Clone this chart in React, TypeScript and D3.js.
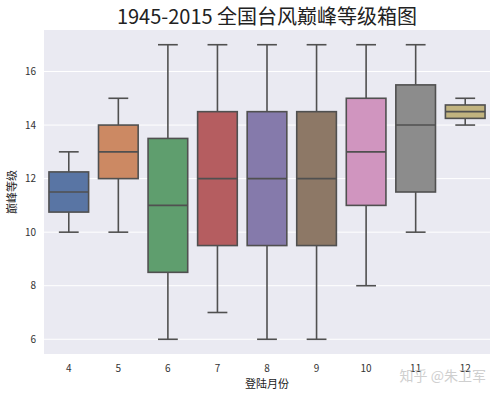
import React from "react";
import * as d3 from "d3";

const months = ["4", "5", "6", "7", "8", "9", "10", "11", "12"];
const whiskerLow = [10, 10, 6, 7, 6, 6, 8, 10, 14];
const q1 = [10.75, 12, 8.5, 9.5, 9.5, 9.5, 11, 11.5, 14.25];
const median = [11.5, 13, 11, 12, 12, 12, 13, 14, 14.5];
const q3 = [12.25, 14, 13.5, 14.5, 14.5, 14.5, 15, 15.5, 14.75];
const whiskerHigh = [13, 15, 17, 17, 17, 17, 17, 17, 15];
const colors = ["#5975a4", "#cc8963", "#5f9e6e", "#b55d60", "#857aab", "#8d7866", "#d095bf", "#8c8c8c", "#c1b37f"];
const yTicks = [6, 8, 10, 12, 14, 16];

const W = 497, H = 395;
const left = 44, right = 490, top = 30, bottom = 354;
const font = "'Noto Sans CJK SC', 'Noto Sans', sans-serif";

export default function App() {
  const x = d3.scaleBand<string>().domain(months).range([left, right]).paddingInner(0).paddingOuter(0);
  const y = d3.scaleLinear().domain([5.45, 17.55]).range([bottom, top]);
  const bw = x.bandwidth() * 0.8;
  const line = "#505050";
  return (
    <svg width={W} height={H} style={{ position: "absolute", left: 0, top: 0, background: "#fff" }} fontFamily={font}>
      <rect x={left} y={top} width={right - left} height={bottom - top} fill="#eaeaf2" />
      {yTicks.map((t) => (
        <g key={t}>
          <line x1={left} x2={right} y1={y(t)} y2={y(t)} stroke="#fff" strokeWidth={1} />
          <text x={left - 8} y={y(t)} dy="0.35em" textAnchor="end" fontSize={10} fill="#333">{t}</text>
        </g>
      ))}
      {months.map((m, i) => {
        const cx = x(m)! + x.bandwidth() / 2;
        return (
          <g key={m}>
            <line x1={cx} x2={cx} y1={y(whiskerHigh[i])} y2={y(q3[i])} stroke={line} strokeWidth={1.6} />
            <line x1={cx} x2={cx} y1={y(q1[i])} y2={y(whiskerLow[i])} stroke={line} strokeWidth={1.6} />
            <line x1={cx - bw / 4} x2={cx + bw / 4} y1={y(whiskerHigh[i])} y2={y(whiskerHigh[i])} stroke={line} strokeWidth={1.6} />
            <line x1={cx - bw / 4} x2={cx + bw / 4} y1={y(whiskerLow[i])} y2={y(whiskerLow[i])} stroke={line} strokeWidth={1.6} />
            <rect x={cx - bw / 2} y={y(q3[i])} width={bw} height={y(q1[i]) - y(q3[i])} fill={colors[i]} stroke={line} strokeWidth={1.6} />
            <line x1={cx - bw / 2} x2={cx + bw / 2} y1={y(median[i])} y2={y(median[i])} stroke={line} strokeWidth={1.6} />
            <text x={cx} y={bottom + 18} textAnchor="middle" fontSize={10} fill="#333">{m}</text>
          </g>
        );
      })}
      <text x={(left + right) / 2} y={24} textAnchor="middle" fontSize={20} fill="#222">1945-2015 全国台风巅峰等级箱图</text>
      <text x={(left + right) / 2} y={388} textAnchor="middle" fontSize={11} fill="#222">登陆月份</text>
      <text transform={`translate(16,${(top + bottom) / 2}) rotate(-90)`} textAnchor="middle" fontSize={11} fill="#222">巅峰等级</text>
      <text x={486} y={381} textAnchor="end" fontSize={14} fill="#bbb" opacity={0.7}>知乎 @朱卫军</text>
    </svg>
  );
}
